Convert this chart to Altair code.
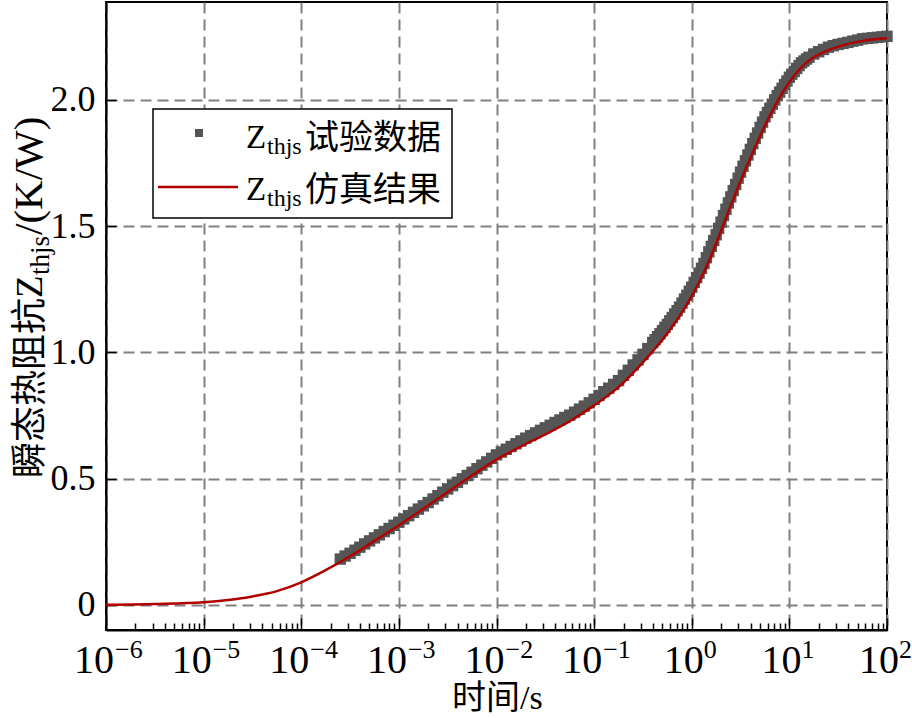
import altair as alt
import pandas as pd

# ---------------- data ----------------
# simulation curve (red line): log10(time/s) and Zthjs (K/W)
red_exp = [-6.0, -5.5, -5.0, -4.75, -4.5, -4.25, -4.0, -3.75, -3.5, -3.25, -3.0, -2.75,
           -2.5, -2.25, -2.0, -1.75, -1.5, -1.25, -1.0, -0.75, -0.5, -0.375, -0.25, -0.125,
           0.0, 0.125, 0.25, 0.375, 0.5, 0.625, 0.75, 0.875, 1.0, 1.125, 1.25, 1.375,
           1.5, 1.75, 2.0]
red_z = [0.000, 0.003, 0.010, 0.019, 0.033, 0.054, 0.089, 0.137, 0.192, 0.253, 0.315, 0.380,
         0.447, 0.513, 0.575, 0.627, 0.675, 0.727, 0.790, 0.862, 0.960, 1.015, 1.076, 1.144,
         1.223, 1.317, 1.431, 1.557, 1.679, 1.792, 1.898, 1.993, 2.071, 2.130, 2.169, 2.193,
         2.211, 2.234, 2.244]

# measured data (grey squares): log10(time/s) and Zthjs (K/W)
pts_exp = [-3.60, -3.55, -3.50, -3.45, -3.40, -3.35, -3.30, -3.25, -3.20, -3.15, -3.10, -3.05,
           -3.00, -2.95, -2.90, -2.85, -2.80, -2.75, -2.70, -2.65, -2.60, -2.55, -2.50, -2.45,
           -2.40, -2.35, -2.30, -2.25, -2.20, -2.15, -2.10, -2.05, -2.00, -1.95, -1.90, -1.85,
           -1.80, -1.75, -1.70, -1.65, -1.60, -1.55, -1.50, -1.45, -1.40, -1.35, -1.30, -1.25,
           -1.20, -1.15, -1.10, -1.05, -1.00, -0.95, -0.90, -0.85, -0.80, -0.75, -0.70, -0.65,
           -0.60, -0.55, -0.50, -0.45,
           -0.400, -0.375, -0.350, -0.325, -0.300, -0.275, -0.250, -0.225, -0.200, -0.175,
           -0.150, -0.125, -0.100, -0.075, -0.050, -0.025, 0.000, 0.025, 0.050, 0.075,
           0.100, 0.125, 0.150, 0.175, 0.200, 0.225, 0.250, 0.275, 0.300, 0.325,
           0.350, 0.375, 0.400, 0.425, 0.450, 0.475, 0.500, 0.525, 0.550, 0.575,
           0.600, 0.625, 0.650, 0.675, 0.700, 0.725, 0.750, 0.775, 0.800, 0.825,
           0.850, 0.875, 0.900, 0.925, 0.950, 0.975, 1.000, 1.025, 1.050, 1.075,
           1.100, 1.125, 1.150, 1.175, 1.200,
           1.25, 1.30, 1.35, 1.40, 1.45, 1.50, 1.55, 1.60, 1.65, 1.70, 1.75, 1.80,
           1.85, 1.90, 1.95, 2.00]
pts_z = [0.181, 0.193, 0.204, 0.216, 0.228, 0.241, 0.253, 0.265, 0.277, 0.290, 0.302, 0.315,
         0.327, 0.340, 0.353, 0.366, 0.379, 0.392, 0.405, 0.419, 0.432, 0.446, 0.459, 0.472,
         0.485, 0.499, 0.512, 0.525, 0.539, 0.553, 0.566, 0.580, 0.594, 0.605, 0.616, 0.627,
         0.638, 0.649, 0.660, 0.670, 0.681, 0.691, 0.701, 0.711, 0.722, 0.732, 0.742, 0.751,
         0.763, 0.775, 0.787, 0.800, 0.814, 0.829, 0.844, 0.858, 0.873, 0.888, 0.909, 0.929,
         0.950, 0.970, 0.992, 1.015,
         1.039, 1.050, 1.062, 1.074, 1.086, 1.099, 1.111, 1.125, 1.138, 1.152,
         1.165, 1.179, 1.195, 1.211, 1.226, 1.242, 1.258, 1.277, 1.296, 1.314,
         1.333, 1.352, 1.375, 1.398, 1.420, 1.443, 1.466, 1.491, 1.516, 1.542,
         1.567, 1.592, 1.616, 1.641, 1.665, 1.690, 1.714, 1.737, 1.759, 1.782,
         1.804, 1.827, 1.848, 1.869, 1.891, 1.912, 1.933, 1.950, 1.967, 1.983,
         2.000, 2.017, 2.031, 2.046, 2.061, 2.075, 2.090, 2.102, 2.113, 2.125,
         2.136, 2.147, 2.154, 2.162, 2.169,
         2.182, 2.191, 2.200, 2.209, 2.215, 2.220, 2.224, 2.228, 2.233, 2.237, 2.242, 2.244,
         2.246, 2.248, 2.250, 2.252]

# axis ticks / labels
major_t = [1e-6, 1e-5, 1e-4, 1e-3, 1e-2, 1e-1, 1e0, 1e1, 1e2]
neg_t = [1e-6, 1e-5, 1e-4, 1e-3, 1e-2, 1e-1]
neg_sup = ["\u22126", "\u22125", "\u22124", "\u22123", "\u22122", "\u22121"]
pos_t = [1e0, 1e1, 1e2]
pos_sup = ["0", "1", "2"]
minor_mult = [2, 3, 4, 5, 6, 7, 8, 9]
minor_t = [m * d for d in major_t[:-1] for m in minor_mult]
y_ticks = [0, 0.5, 1.0, 1.5, 2.0]

x_title_parts = ["时间", "/s"]
y_title_parts = ["瞬态热阻抗", "Z", "thjs", "/(K/W)"]
legend_pts = "试验数据"
legend_line = "仿真结果"

# ---------------- styling ----------------
W, H = 781, 628
SERIF = "Liberation Serif"
CJK = "Noto Sans CJK SC"
GREY = "#555555"
RED = "#b00000"
GRID = "#808080"

line_df = pd.DataFrame({"t": [10 ** e for e in red_exp], "z": red_z})
pts_df = pd.DataFrame({"t": [10 ** e for e in pts_exp], "z": pts_z})
one = pd.DataFrame({"k": [0]})

xscale = alt.Scale(type="log", domain=[1e-6, 1e2], nice=False)
yscale = alt.Scale(domain=[-0.1, 2.388], nice=False, zero=False)

x_major_axis = alt.Axis(values=major_t, labels=False, title=None, orient="bottom",
                        tickSize={"expr": "-12"}, tickColor="black", tickWidth=1.5,
                        domainColor="black", domainWidth=2,
                        grid=True, gridColor=GRID, gridWidth=2, gridDash=[11, 6], gridOpacity=1)
x_minor_axis = alt.Axis(values=minor_t, labels=False, title=None, orient="bottom",
                        tickSize={"expr": "-7"}, tickColor="black", tickWidth=1.5,
                        domain=False, grid=False)
y_axis = alt.Axis(values=y_ticks, title=None, orient="left",
                  labelExpr="datum.value == 0 ? '0' : format(datum.value, '.1f')",
                  labelFont=SERIF, labelFontSize=36, labelColor="black", labelPadding=21,
                  tickSize={"expr": "-10"}, tickColor="black", tickWidth=1.5,
                  domainColor="black", domainWidth=2,
                  grid=True, gridColor=GRID, gridWidth=2, gridDash=[11, 6], gridOpacity=1)

pts = alt.Chart(pts_df).mark_square(size=130, color=GREY, opacity=1).encode(
    x=alt.X("t:Q", scale=xscale, axis=x_major_axis),
    y=alt.Y("z:Q", scale=yscale, axis=y_axis))

line = alt.Chart(line_df).mark_line(color=RED, strokeWidth=2.5, interpolate="monotone").encode(
    x=alt.X("t:Q", scale=xscale, axis=x_minor_axis),
    y=alt.Y("z:Q", scale=yscale, axis=y_axis))

# x tick labels 10^n
neg_df = pd.DataFrame({"t": neg_t, "s": neg_sup})
pos_df = pd.DataFrame({"t": pos_t, "s": pos_sup})


def base_lab(df, dx):
    return alt.Chart(df).mark_text(text="10", align="left", baseline="alphabetic", dx=dx,
                                   font=SERIF, fontSize=40, color="black").encode(
        x=alt.X("t:Q", scale=xscale, axis=None), y=alt.value(H + 43))


def sup_lab(df, dx):
    return alt.Chart(df).mark_text(align="left", baseline="alphabetic", dx=dx,
                                   font=SERIF, fontSize=26, color="black").encode(
        x=alt.X("t:Q", scale=xscale, axis=None), y=alt.value(H + 28), text="s:N")


xlabels = [base_lab(neg_df, -32), sup_lab(neg_df, 9), base_lab(pos_df, -28), sup_lab(pos_df, 12)]


def txt(s, x, y, size, font=SERIF, angle=0, align="left"):
    kw = dict(text=s, align=align, baseline="alphabetic", font=font, fontSize=size, color="black")
    if angle:
        kw["angle"] = angle
    return alt.Chart(one).mark_text(**kw).encode(x=alt.value(x), y=alt.value(y))


xtitle = [txt(x_title_parts[0], 346, 707, 34, font=CJK),
          txt(x_title_parts[1], 414, 707, 34)]

ytitle = [
    txt(y_title_parts[0], -64, 476, 36, font=CJK, angle=270),
    txt(y_title_parts[1], -64, 296, 37, angle=270),
    txt(y_title_parts[2], -57, 273, 27, angle=270),
    txt(y_title_parts[3], -64, 233, 41, angle=270),
]

# legend
leg_box = alt.Chart(one).mark_rect(fill="white", stroke="black", strokeWidth=1.5).encode(
    x=alt.value(47), x2=alt.value(346), y=alt.value(107), y2=alt.value(216))
leg_sq = alt.Chart(one).mark_square(size=64, color=GREY, opacity=1).encode(
    x=alt.value(93), y=alt.value(131))
leg_ln = alt.Chart(one).mark_rule(color=RED, strokeWidth=2.5).encode(
    x=alt.value(52), x2=alt.value(132), y=alt.value(185))
legend = [leg_box, leg_sq, leg_ln,
          txt("Z", 140, 146, 33), txt("thjs", 161, 152, 24), txt(legend_pts, 199, 147, 34, font=CJK),
          txt("Z", 140, 198, 33), txt("thjs", 161, 204, 24), txt(legend_line, 199, 199, 34, font=CJK)]

chart = alt.layer(pts, line, *xlabels, *xtitle, *ytitle, *legend).resolve_axis(
    x="independent"
).properties(
    width=W, height=H,
    padding={"left": 106, "top": 2, "right": 25, "bottom": 88},
    autosize=alt.AutoSizeParams(type="none"),
    background="white",
).configure_view(stroke="black", strokeWidth=2)

chart.save("out.html", embed_options={"renderer": "svg", "actions": False})
